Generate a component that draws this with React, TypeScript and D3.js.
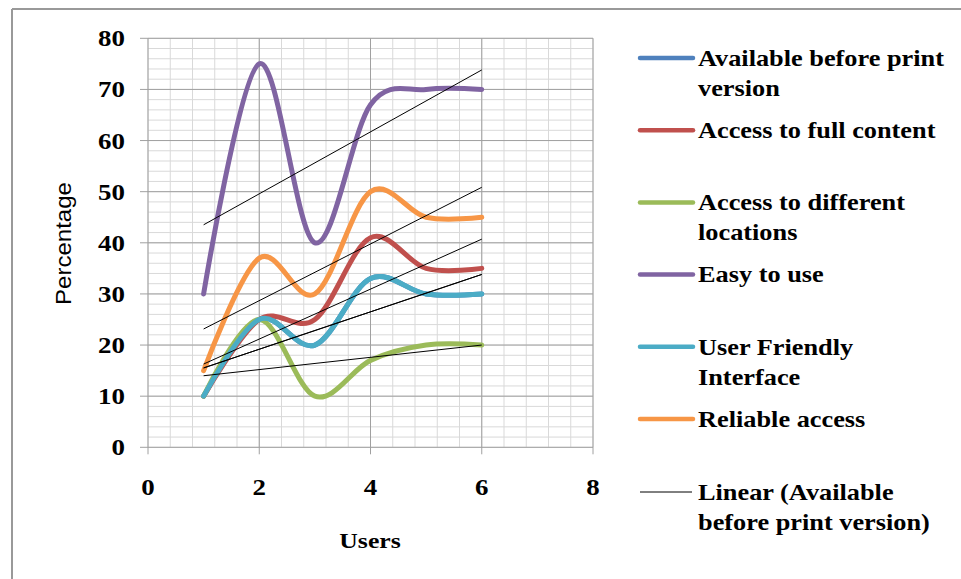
import React from "react";
import * as d3 from "d3";

const users = [1, 2, 3, 4, 5, 6];
const availableBeforePrint = [10, 25, 20, 33, 30, 30];
const accessFullContent = [10, 25, 25, 41, 35, 35];
const accessDifferentLocations = [10, 25, 10, 17, 20, 20];
const easyToUse = [30, 75, 40, 67, 70, 70];
const userFriendly = [10, 25, 20, 33, 30, 30];
const reliableAccess = [15, 37, 30, 50, 45, 45];

const seriesLabels = [
  ["Available before print", "version"],
  ["Access to full content"],
  ["Access to different", "locations"],
  ["Easy to use"],
  ["User Friendly", "Interface"],
  ["Reliable access"],
];
const trendLabel = ["Linear (Available", "before print version)"];
const seriesColors = ["#4F81BD", "#C0504D", "#9BBB59", "#8064A2", "#4BACC6", "#F79646"];
const xTicks = [0, 2, 4, 6, 8];
const yTicks = [0, 10, 20, 30, 40, 50, 60, 70, 80];

const W = 961;
const H = 579;
const left = 148, right = 593, top = 38.3, bottom = 447.3;
const serif = "'Liberation Serif', 'Times New Roman', serif";
const SX = 1.17;

function SText(props: { x: number; y: number; anchor?: string; size?: number; children: React.ReactNode }) {
  const { x, y, anchor = "start", size = 23, children } = props;
  return (
    <text
      transform={`translate(${x},${y}) scale(${SX},1)`}
      dy="0.35em"
      textAnchor={anchor}
      fontFamily={serif}
      fontWeight="bold"
      fontSize={size}
      fill="#000"
    >
      {children}
    </text>
  );
}

export default function App() {
  const x = d3.scaleLinear().domain([0, 8]).range([left, right]);
  const y = d3.scaleLinear().domain([0, 80]).range([bottom, top]);
  const all = [availableBeforePrint, accessFullContent, accessDifferentLocations, easyToUse, userFriendly, reliableAccess];
  const line = d3
    .line<number>()
    .x((_, i) => x(users[i]))
    .y((d) => y(d))
    .curve(d3.curveCatmullRom.alpha(0));

  const trend = (vals: number[]) => {
    const mx = d3.mean(users)!;
    const my = d3.mean(vals)!;
    let num = 0, den = 0;
    users.forEach((u, i) => {
      num += (u - mx) * (vals[i] - my);
      den += (u - mx) * (u - mx);
    });
    const b = num / den;
    const a = my - b * mx;
    return [users[0], users[users.length - 1]].map((u) => [x(u), y(a + b * u)] as [number, number]);
  };

  const minorX = d3.range(0, 8.0001, 0.4);
  const minorY = d3.range(0, 80.0001, 2);

  const legendY0 = 58;
  const legendStep = 72.2;

  return (
    <svg width={W} height={H} style={{ position: "absolute", left: 0, top: 0, background: "#fff" }}>
      <rect x={0} y={0} width={W} height={H} fill="#fff" />
      <line x1={12} y1={9} x2={W} y2={9} stroke="#999" strokeWidth={2} />
      <line x1={12} y1={9} x2={12} y2={H} stroke="#999" strokeWidth={2} />

      {minorX.map((v, i) => (
        <line key={"mx" + i} x1={x(v)} x2={x(v)} y1={top} y2={bottom} stroke="#d9d9d9" strokeWidth={1} />
      ))}
      {minorY.map((v, i) => (
        <line key={"my" + i} x1={left} x2={right} y1={y(v)} y2={y(v)} stroke="#d9d9d9" strokeWidth={1} />
      ))}
      {xTicks.map((v) => (
        <line key={"Mx" + v} x1={x(v)} x2={x(v)} y1={top} y2={bottom + 7} stroke="#a0a0a0" strokeWidth={1} />
      ))}
      {yTicks.map((v) => (
        <line key={"My" + v} x1={left - 8} x2={right} y1={y(v)} y2={y(v)} stroke="#a0a0a0" strokeWidth={1} />
      ))}

      {yTicks.map((v) => (
        <SText key={"yt" + v} x={125} y={y(v)} anchor="end" size={23}>
          {v}
        </SText>
      ))}
      {xTicks.map((v) => (
        <SText key={"xt" + v} x={x(v)} y={487} anchor="middle" size={23}>
          {v}
        </SText>
      ))}

      <text
        transform={`translate(63,243.5) rotate(-90)`}
        textAnchor="middle"
        dy="0.35em"
        fontFamily="'Liberation Sans', Arial, sans-serif"
        fontSize={22}
        textLength={123}
        lengthAdjust="spacingAndGlyphs"
        fill="#000"
      >
        Percentage
      </text>
      <SText x={370} y={540} anchor="middle" size={22}>
        Users
      </SText>

      {all.map((vals, i) => (
        <path key={"s" + i} d={line(vals) || ""} fill="none" stroke={seriesColors[i]} strokeWidth={5} strokeLinecap="round" strokeLinejoin="round" />
      ))}
      {all.map((vals, i) => {
        const p = trend(vals);
        return <line key={"t" + i} x1={p[0][0]} y1={p[0][1]} x2={p[1][0]} y2={p[1][1]} stroke="#000" strokeWidth={1} />;
      })}

      {seriesLabels.map((lines, i) => {
        const ly = legendY0 + i * legendStep;
        return (
          <g key={"lg" + i}>
            <line x1={640} x2={693} y1={ly} y2={ly} stroke={seriesColors[i]} strokeWidth={4.5} strokeLinecap="round" />
            {lines.map((t, j) => (
              <SText key={j} x={698} y={ly + j * 30} size={22.5}>
                {t}
              </SText>
            ))}
          </g>
        );
      })}
      <g>
        <line x1={640} x2={692} y1={492} y2={492} stroke="#000" strokeWidth={1} />
        {trendLabel.map((t, j) => (
          <SText key={j} x={698} y={492 + j * 30} size={22.5}>
            {t}
          </SText>
        ))}
      </g>
    </svg>
  );
}
